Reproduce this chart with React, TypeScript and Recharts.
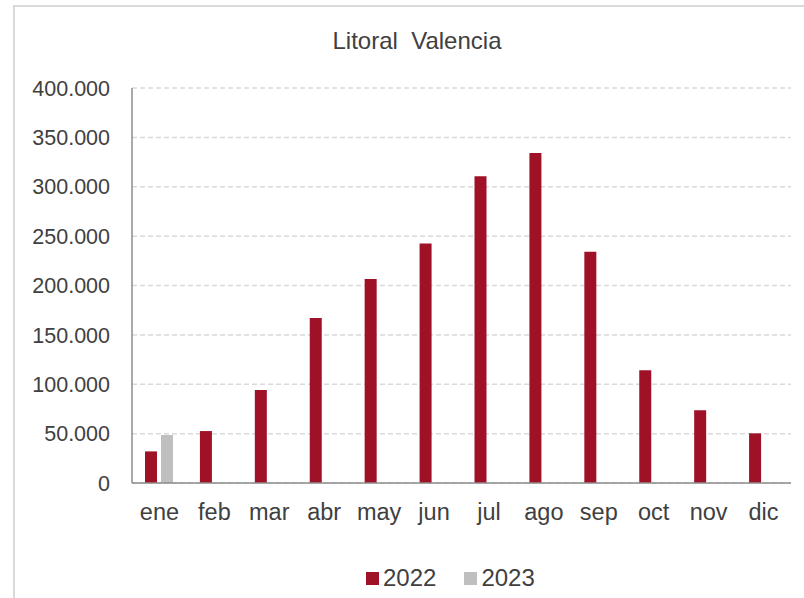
import { BarChart, Bar, XAxis, YAxis, CartesianGrid, Legend } from 'recharts'

const months = ['ene', 'feb', 'mar', 'abr', 'may', 'jun', 'jul', 'ago', 'sep', 'oct', 'nov', 'dic']
const values2022 = [32000, 52600, 94100, 167000, 206500, 242600, 310700, 334300, 234100, 114100, 73600, 50300]
const values2023: (number | null)[] = [48600, null, null, null, null, null, null, null, null, null, null, null]
const yTicks = [0, 50000, 100000, 150000, 200000, 250000, 300000, 350000, 400000]

const FONT = '"Liberation Sans", Arial, sans-serif'
const TEXT = '#404040'
const RED = '#9E1127'
const GREY = '#BFBFBF'

const data = months.map((m, i) => ({ month: m, y2022: values2022[i], y2023: values2023[i] }))

// 400000 -> "400.000"
function formatThousands(v: number): string {
  return String(v).replace(/\B(?=(\d{3})+(?!\d))/g, '.')
}

function LegendContent(props: any) {
  const items = props.payload || []
  return (
    <div style={{ display: 'flex', alignItems: 'center', height: 30, paddingLeft: 366, fontFamily: FONT }}>
      {items.map((it: any) => (
        <div key={it.value} style={{ display: 'flex', alignItems: 'center', marginRight: 28 }}>
          <span style={{ width: 13, height: 13, background: it.color, marginRight: 4, display: 'inline-block' }} />
          <span style={{ fontSize: 24, color: TEXT, lineHeight: '26px' }}>{it.value}</span>
        </div>
      ))}
    </div>
  )
}

export default function App() {
  return (
    <div style={{ position: 'fixed', left: 0, top: 0, width: 804, height: 598, overflow: 'hidden', background: '#fff', fontFamily: FONT }}>
      <div style={{ position: 'absolute', left: 13, top: 5, width: 820, height: 620, borderLeft: '2px solid #d9d9d9', borderTop: '2px solid #d9d9d9' }} />
      <div style={{ position: 'absolute', left: 0, top: 29, width: 834, textAlign: 'center', fontSize: 24, lineHeight: '24px', color: TEXT, whiteSpace: 'pre' }}>
        {'Litoral  Valencia'}
      </div>
      <div style={{ position: 'absolute', left: 0, top: 0 }}>
        <BarChart width={804} height={598} data={data} margin={{ top: 88, right: 13, left: 0, bottom: 5 }} barSize={12} barGap={4}>
          <CartesianGrid vertical={false} stroke="#d9d9d9" strokeDasharray="5 3" strokeWidth={1.5} />
          <XAxis
            dataKey="month"
            height={80}
            tickLine={false}
            tickSize={0}
            tickMargin={20}
            axisLine={{ stroke: '#8c8c8c', strokeWidth: 1.5 }}
            tick={{ fontSize: 23.5, fill: TEXT, fontFamily: FONT }}
            interval={0}
          />
          <YAxis
            width={132}
            domain={[0, 400000]}
            ticks={yTicks}
            tickFormatter={formatThousands}
            tickLine={false}
            tickSize={0}
            tickMargin={22}
            axisLine={{ stroke: '#8c8c8c', strokeWidth: 1.5 }}
            tick={{ fontSize: 21.5, fill: TEXT, fontFamily: FONT }}
            interval={0}
          />
          <Legend verticalAlign="bottom" content={LegendContent} />
          <Bar dataKey="y2022" name="2022" fill={RED} isAnimationActive={false} />
          <Bar dataKey="y2023" name="2023" fill={GREY} isAnimationActive={false} />
        </BarChart>
      </div>
    </div>
  )
}
